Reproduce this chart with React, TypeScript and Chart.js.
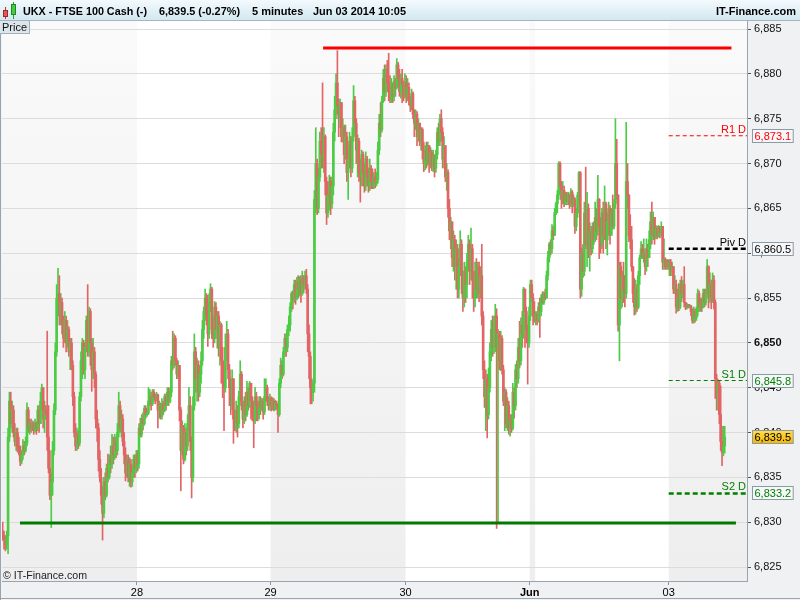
import { useEffect, useRef } from "react";
import { Chart, registerables } from "chart.js";

Chart.register(...registerables);

// ---------------- DATA ----------------
// 5-minute candles, each entry is [high, low, close]; the open is the previous close.
const firstOpen = 6829;

const may27 = [
  [6830, 6828, 6828.5], [6829, 6827, 6828], [6828.5, 6826.8, 6827.5], [6829, 6827, 6828.5], [6840.5, 6826.5, 6839.5],
  [6844.5, 6839, 6843.5], [6844.5, 6840.5, 6841], [6843.5, 6840, 6842.5], [6843, 6839.5, 6840], [6841, 6838.5, 6839],
  [6840.5, 6838, 6840], [6840.5, 6837.8, 6838.5], [6839.5, 6837.5, 6838], [6838.5, 6836.3, 6836.8], [6838, 6836.5, 6837.5],
  [6839.2, 6837, 6838.5], [6839, 6837.5, 6838], [6839.5, 6837.8, 6838.8], [6843.3, 6838.5, 6842.5], [6842.8, 6840, 6840.5],
  [6841.5, 6839.8, 6841], [6841.5, 6840, 6840.5], [6841.3, 6840.2, 6841], [6841.2, 6839.8, 6840.3], [6841.5, 6840, 6841],
  [6841.2, 6839.8, 6840.5], [6843, 6840.2, 6842.5], [6843, 6840, 6841], [6844.5, 6841, 6843.5], [6845.4, 6842.5, 6845],
  [6845, 6840.5, 6841.5], [6843.5, 6840, 6842.5], [6843, 6841.5, 6842], [6851.3, 6838, 6839.5], [6843, 6835.5, 6836],
  [6838, 6832.5, 6833], [6835.5, 6829.4, 6834.5], [6839, 6833, 6838], [6843.2, 6837.5, 6842.5], [6850, 6842, 6849],
  [6856.5, 6848.5, 6855], [6858.3, 6854, 6855.5], [6857.5, 6852, 6853], [6855.5, 6852, 6854.5], [6855, 6851, 6852],
  [6853, 6849.5, 6850.5], [6853.5, 6850, 6852.5], [6853, 6849, 6850], [6852.5, 6849.5, 6851.5], [6851.8, 6848.5, 6849],
  [6850.5, 6847, 6850], [6850.5, 6847, 6847.5], [6848, 6843, 6844], [6844.5, 6839.5, 6840], [6841, 6838, 6838.5],
  [6840.5, 6838, 6839.8], [6840.2, 6838.2, 6838.8], [6844.5, 6838.5, 6844], [6849, 6843.5, 6848], [6850.5, 6846, 6850],
  [6850.3, 6846.5, 6847], [6850, 6846, 6849.5], [6853, 6849, 6852.5], [6856.5, 6848.5, 6849], [6854, 6848.5, 6853.5],
  [6853.8, 6847.5, 6850], [6850.5, 6844.6, 6847], [6850.5, 6846, 6849], [6849.5, 6845, 6846.5], [6846.8, 6840.5, 6841.5],
  [6842.5, 6839, 6840.5], [6841, 6835.7, 6837], [6838, 6834.5, 6835], [6836, 6832, 6833], [6834, 6828, 6831],
  [6835, 6830.5, 6834.5], [6835.5, 6832.5, 6833], [6836.5, 6832.8, 6836], [6837.6, 6834.5, 6835], [6837.5, 6834.8, 6837],
  [6838.5, 6835.5, 6836.5], [6839.8, 6836, 6838.5], [6839.5, 6836.5, 6837.5], [6839.8, 6837, 6839], [6839.5, 6837.2, 6838],
  [6841, 6837.5, 6840], [6844.5, 6839.5, 6843], [6843.5, 6840, 6840.5], [6842.5, 6839.5, 6841.5], [6842, 6838.5, 6839],
  [6840, 6836.5, 6837.5], [6838.3, 6834.6, 6835.5], [6837.5, 6835, 6837], [6837.5, 6834.5, 6835], [6837.2, 6834, 6836.5],
  [6837, 6833.9, 6834.5], [6836.3, 6834, 6835.5], [6837.5, 6835, 6837], [6837.5, 6835, 6836], [6838, 6835.5, 6837.5],
];

const may28 = [
  [6838, 6835.7, 6836.5], [6841, 6836, 6840.5], [6841.6, 6839.5, 6839.8], [6842, 6839.5, 6841.5], [6842.2, 6840.3, 6841],
  [6843, 6840.8, 6842.7], [6843, 6841.6, 6842], [6842.5, 6841.8, 6842.2], [6845, 6842, 6843.5], [6844.8, 6843, 6844],
  [6844.5, 6842.5, 6843.2], [6844.8, 6843, 6844.5], [6844.8, 6843.5, 6844], [6844.3, 6843.2, 6843.7], [6844.5, 6843.5, 6844.2],
  [6844.3, 6840.5, 6842.5], [6843.5, 6841.6, 6843], [6843.3, 6841.5, 6841.8], [6843.8, 6841.5, 6843.2], [6843.5, 6842, 6842.5],
  [6844.3, 6842.3, 6844], [6844.3, 6842.5, 6843], [6845, 6843, 6844.5], [6845, 6843, 6843.5], [6845, 6843.3, 6844.5],
  [6848.5, 6844, 6848], [6851.3, 6847, 6847.5], [6851, 6847.2, 6850.5], [6850.8, 6847.5, 6848], [6848.3, 6846, 6846.5],
  [6848, 6846, 6847.5], [6847.5, 6841.3, 6842.5], [6842.8, 6833.5, 6838], [6841.3, 6837.5, 6840.5], [6840.8, 6836.5, 6837],
  [6841, 6836.8, 6840], [6840.5, 6837.5, 6838.5], [6842, 6838, 6841], [6845, 6840, 6843], [6844, 6838, 6839],
  [6839.5, 6832.7, 6835], [6844, 6834.5, 6843], [6851, 6842.5, 6849], [6849.5, 6844.5, 6846], [6848.3, 6843.5, 6847.5],
  [6848, 6843.5, 6844.5], [6847.5, 6844, 6846.5], [6849, 6845.5, 6848], [6852.5, 6847.5, 6851.5], [6854, 6850.5, 6853.5],
  [6856, 6852.5, 6855], [6855.5, 6852, 6853], [6855.3, 6849.6, 6851], [6855.5, 6850.5, 6854.5], [6856.6, 6853.5, 6856],
  [6856.2, 6850.5, 6851.5], [6853, 6849.5, 6850.5], [6854.6, 6850, 6854], [6854.5, 6850.5, 6851.5], [6853.5, 6849.4, 6853],
  [6853.5, 6848.5, 6849.5], [6852.4, 6847.5, 6852], [6852.2, 6845.5, 6848], [6849.5, 6843.9, 6846], [6847.5, 6840.2, 6845],
  [6851, 6844.5, 6849.5], [6852.4, 6848, 6851], [6851.5, 6846, 6847], [6847.6, 6843, 6845], [6846, 6842, 6843],
  [6847, 6842.5, 6846], [6846, 6838.8, 6841.5], [6842.5, 6840.2, 6840.5], [6843.5, 6840, 6842.5], [6843, 6839.5, 6841],
  [6844.6, 6840.5, 6844], [6848, 6843.5, 6846.5], [6846.8, 6842.5, 6843], [6843.5, 6840.5, 6841.5], [6844, 6841, 6843.5],
  [6844.5, 6841.3, 6842], [6845.7, 6841.8, 6844.5], [6845, 6842.5, 6843], [6845.7, 6842.8, 6845.5], [6845.5, 6841.5, 6843.5],
  [6844, 6841.3, 6842], [6843.5, 6838.3, 6841.5], [6845, 6841, 6844], [6844.5, 6841.3, 6843], [6843.5, 6841.3, 6842],
  [6844, 6841.5, 6843.5], [6844, 6842, 6842.8], [6843.8, 6842.5, 6843.5], [6843.8, 6841.5, 6842.3], [6846, 6842, 6844],
  [6846, 6843.5, 6845], [6845.3, 6843, 6843.5], [6844, 6842.5, 6843], [6844.3, 6842.5, 6843.8],
];

const may29 = [
  [6844, 6842.4, 6843], [6843.9, 6842.5, 6843.5], [6843.8, 6842.4, 6842.6], [6843.6, 6842.5, 6843.2], [6843.5, 6842.6, 6843],
  [6843.2, 6840, 6842], [6846, 6841.8, 6845.5], [6848.3, 6845, 6847.5], [6848, 6846, 6846.5], [6849.5, 6846.3, 6849],
  [6851, 6848.5, 6850.5], [6851, 6848.5, 6849.5], [6852, 6849, 6851.5], [6853, 6850.8, 6852], [6854.5, 6851.3, 6854],
  [6855.7, 6853.5, 6855.5], [6855.8, 6853.8, 6854.8], [6857, 6854.5, 6856.5], [6857, 6854.3, 6855], [6857.3, 6854.8, 6856.8],
  [6857.5, 6855, 6856], [6857.4, 6855.2, 6857], [6857.5, 6854.5, 6855.5], [6858, 6855.3, 6857.2], [6857.5, 6855.6, 6856.5],
  [6858, 6856, 6857.5], [6858.2, 6855.5, 6856], [6856.5, 6849, 6851], [6852, 6846, 6848.5], [6849, 6843.2, 6845],
  [6846, 6843.2, 6844.5], [6845.8, 6843.5, 6845.5], [6867, 6844.5, 6866], [6874, 6864.5, 6870], [6870.5, 6864.3, 6865],
  [6869.5, 6864.5, 6868.5], [6873.5, 6868, 6872.5], [6874, 6869.5, 6871], [6879, 6869.5, 6870.5], [6874, 6869, 6873],
  [6873.2, 6866.5, 6868], [6868.5, 6863.2, 6864.5], [6867.5, 6864, 6866.5], [6868.7, 6864.8, 6868], [6868.5, 6864.3, 6865.5],
  [6868.5, 6865, 6867.5], [6874.5, 6866.5, 6873.5], [6877.5, 6872.5, 6876], [6880, 6875, 6879], [6882.6, 6875.5, 6876.5],
  [6877.2, 6873, 6875], [6877.2, 6874, 6876.8], [6876.5, 6872.4, 6873], [6875, 6872.4, 6874], [6874.3, 6870, 6871],
  [6874.3, 6870.5, 6873], [6873.5, 6868, 6869], [6872, 6866, 6870.5], [6873.5, 6869.5, 6872.5], [6873, 6868.5, 6869.5],
  [6874, 6869, 6873], [6878.7, 6872.5, 6877], [6877.5, 6873.5, 6874.5], [6875, 6870, 6871.5], [6873.2, 6868.5, 6872.5],
  [6872.8, 6868, 6869], [6870.5, 6865.7, 6868.5], [6871.5, 6867.5, 6871], [6871.3, 6867.5, 6869], [6870, 6866.8, 6867.5],
  [6871.3, 6867, 6870.5], [6870.8, 6867.5, 6868.5], [6869.5, 6866.8, 6867.5], [6870.5, 6867, 6869.5], [6869.8, 6867.2, 6868],
  [6869.4, 6867.2, 6867.5], [6869, 6867.2, 6868.5], [6869.4, 6867.3, 6867.8], [6869, 6867.5, 6868.2], [6872.4, 6867.8, 6871.5],
  [6875.5, 6871, 6874.5], [6876.8, 6873, 6873.8], [6877.5, 6873.5, 6877], [6880.5, 6876.8, 6879.5], [6881, 6877, 6878],
  [6881, 6877.5, 6880.5], [6881.5, 6878, 6879], [6882.3, 6877, 6878], [6879.8, 6876.8, 6877.2], [6879.5, 6876.8, 6878.5],
  [6879, 6876.8, 6877.5], [6879.8, 6877, 6879.2], [6879.5, 6877.5, 6878.5], [6881.7, 6878.3, 6881], [6881.3, 6878.5, 6879.5],
  [6880.5, 6877.5, 6878], [6880, 6877.3, 6879.5], [6880.5, 6876.8, 6878.8], [6879.2, 6877, 6877.5], [6880, 6877.3, 6879],
];

const may30 = [
  [6879.8, 6876.8, 6877.5], [6879.5, 6877, 6878.5], [6879, 6876.5, 6877], [6877.5, 6875.8, 6876.5], [6878.3, 6876, 6877.8],
  [6878, 6875, 6875.5], [6876, 6873, 6874.5], [6876, 6873.8, 6875.5], [6875.8, 6872, 6873], [6875, 6872.5, 6874.5],
  [6874.5, 6872, 6872.5], [6874, 6871.5, 6873.8], [6874, 6870.5, 6871.5], [6872.4, 6869.1, 6870], [6872, 6869.3, 6871.5],
  [6872.4, 6869.5, 6870.5], [6872.4, 6869.8, 6872], [6872, 6869, 6870], [6871.8, 6869.5, 6871.2], [6871.5, 6869.2, 6869.8],
  [6871.5, 6869.1, 6870.8], [6871, 6868.5, 6869.5], [6871.5, 6869, 6871], [6874, 6870.5, 6873.5], [6874.5, 6872, 6872.5],
  [6875.5, 6872, 6875], [6876, 6872.5, 6873.5], [6874, 6869.5, 6870.5], [6873, 6869.5, 6872], [6872, 6868, 6868.5],
  [6870, 6867, 6869], [6869.3, 6864, 6865], [6866, 6861.5, 6862.5], [6864, 6860.5, 6863.5], [6863.5, 6858.5, 6859.5],
  [6862.5, 6858, 6861.5], [6862, 6857, 6858.5], [6861.5, 6856, 6860.5], [6861, 6855, 6856], [6859.5, 6855, 6858.5],
  [6862.5, 6857.5, 6861], [6861.5, 6855.5, 6857.5], [6858, 6853.5, 6855], [6859, 6854, 6858], [6858.5, 6854.5, 6856.5],
  [6860, 6855, 6859], [6862, 6858, 6861], [6861.5, 6856.5, 6858], [6862.8, 6857, 6860.5], [6861, 6855, 6857],
  [6858, 6853.5, 6855], [6859, 6854, 6858], [6859.4, 6855, 6856], [6859, 6855, 6858.5], [6859, 6854.6, 6855.5],
  [6858.5, 6855, 6857.5], [6861, 6852, 6853], [6853.5, 6846, 6847], [6848, 6842.8, 6844], [6847, 6840.2, 6846],
  [6846.5, 6839.4, 6842], [6847.2, 6841.5, 6845], [6850, 6844.5, 6849], [6852.5, 6848, 6851.5], [6853, 6848.5, 6849.5],
  [6853, 6848.8, 6852], [6854.3, 6849, 6853], [6853.8, 6829.3, 6849.5], [6851.5, 6830, 6851], [6851.3, 6847, 6848],
  [6851.3, 6846.9, 6850.5], [6850.8, 6846.5, 6847], [6847.5, 6843, 6843.5], [6845, 6840.2, 6844.5], [6844.8, 6840.5, 6841],
  [6843.9, 6840.2, 6843], [6843.5, 6839.8, 6840.5], [6842, 6839.6, 6841.5], [6842, 6840, 6840.5], [6845.5, 6840.3, 6844.5],
  [6845, 6841.6, 6843], [6847.6, 6842.5, 6847], [6848, 6845, 6846], [6850.5, 6845.5, 6849.5], [6852.4, 6847.2, 6848],
  [6852.8, 6847.5, 6852], [6853.5, 6849.5, 6851], [6856.2, 6850.5, 6856], [6855.4, 6849.5, 6853.5], [6854, 6850, 6851.5],
  [6852, 6845.4, 6850], [6854, 6849.5, 6853],
];

const jun01 = [
  [6857, 6852.5, 6856.5], [6857, 6854.6, 6855], [6855.5, 6852, 6853], [6854.6, 6852.3, 6852.8],
];

const jun02 = [
  [6853.5, 6852, 6853.2], [6853.5, 6852, 6852.5], [6854.5, 6852.3, 6854], [6855, 6850.6, 6853.5], [6855.4, 6853, 6855],
  [6855.7, 6854.3, 6854.5], [6855.7, 6854.3, 6855.5], [6856, 6854.8, 6855], [6858, 6855, 6857.5], [6860.2, 6857, 6859.5],
  [6861.2, 6859, 6861], [6861.5, 6859.8, 6860.5], [6863.2, 6860, 6862.5], [6863, 6861.5, 6862], [6865, 6862, 6864.5],
  [6865.7, 6864.3, 6865.5], [6867, 6864.5, 6866.5], [6870.2, 6866, 6870], [6870.2, 6867, 6867.5], [6868, 6865, 6866],
  [6868, 6865.5, 6867], [6867.5, 6865.2, 6865.5], [6866.8, 6865.4, 6866.5], [6866.8, 6865.4, 6865.8], [6866.8, 6865.4, 6866.5],
  [6866.6, 6865, 6865.5], [6867.2, 6865.2, 6866.8], [6867, 6864.5, 6865.5], [6866.5, 6865.2, 6866], [6866.2, 6862.2, 6863],
  [6865, 6862.5, 6864.5], [6866.8, 6864, 6866.5], [6869.1, 6866, 6869], [6869.1, 6855, 6856], [6860.6, 6855.2, 6860],
  [6861, 6857.3, 6858], [6865.7, 6857.5, 6864.5], [6869.6, 6860.5, 6861], [6866.8, 6858.5, 6865], [6865.5, 6859.5, 6860.5],
  [6863.4, 6858, 6862.5], [6863, 6859.8, 6860.5], [6863.4, 6860, 6863], [6863.5, 6861, 6861.5], [6865.7, 6861.3, 6864],
  [6865, 6861.5, 6862.5], [6868.7, 6862, 6866], [6866.1, 6859.4, 6863], [6864, 6860, 6861], [6865, 6860.5, 6864.5],
  [6865.7, 6860, 6862], [6867.5, 6861.5, 6865.5], [6865.7, 6860.5, 6861.5], [6864.5, 6859.8, 6863.5], [6865.7, 6862, 6865],
  [6865.3, 6861, 6862], [6865, 6862, 6864.5], [6866.5, 6862.7, 6863], [6866, 6862.7, 6865.5], [6875, 6865, 6870],
  [6872.7, 6866, 6866.5], [6866.5, 6851.3, 6852], [6859, 6848, 6858.5], [6859, 6853.8, 6855], [6858, 6854, 6857.5],
  [6859, 6854.5, 6856], [6857.5, 6854, 6855.5], [6874.6, 6855, 6868], [6870, 6865, 6866.5], [6866.5, 6861.3, 6862],
  [6864.3, 6860.5, 6861.5], [6863, 6858, 6858.5], [6858.5, 6854.5, 6855.5], [6857.2, 6853.1, 6854], [6857, 6853.2, 6856],
  [6856.5, 6853.5, 6854], [6858, 6853.8, 6857.5], [6859.8, 6856.5, 6859.5], [6861.3, 6859.4, 6860.5], [6861, 6859.4, 6859.6],
  [6861.6, 6859, 6860], [6860.5, 6857.6, 6858.5], [6861.6, 6858, 6860.5], [6861, 6858.5, 6859.5], [6862.5, 6859.5, 6861.5],
  [6864.6, 6860.5, 6863.5], [6865.7, 6861, 6862], [6864.6, 6861.5, 6864], [6864, 6861, 6861.8], [6863.1, 6861.6, 6862.8],
  [6863, 6861.6, 6862], [6863.1, 6861.8, 6862.9], [6863, 6861.7, 6862.3], [6863.5, 6861.9, 6863], [6863, 6858.2, 6859],
  [6861.6, 6858.2, 6859.3], [6859.5, 6858.2, 6858.5], [6859.3, 6858.2, 6859.2], [6859.3, 6858.2, 6858.5],
];

const jun03 = [
  [6859.3, 6857.5, 6859], [6859.3, 6857.5, 6858], [6859, 6857.5, 6858.5], [6858.2, 6855.5, 6856], [6857.5, 6855.5, 6856.5],
  [6857, 6853.3, 6854], [6856, 6853.5, 6855], [6856.6, 6853.6, 6854], [6857, 6853.8, 6856.5], [6857.4, 6854.6, 6855.5],
  [6857, 6855, 6856.5], [6858.5, 6854, 6854.5], [6854.4, 6853.7, 6854], [6854.4, 6853.8, 6854.2], [6854.3, 6853.9, 6854],
  [6854.3, 6853.9, 6854.1], [6854.2, 6853, 6853.5], [6853.8, 6852.2, 6852.5], [6854, 6852.2, 6853.5], [6853.8, 6852.3, 6852.8],
  [6854, 6852.5, 6853.5], [6856, 6853, 6855.5], [6855.8, 6853.5, 6854], [6855, 6853.5, 6854.5], [6855, 6853.5, 6854],
  [6856, 6853.9, 6855.5], [6856, 6854, 6854.5], [6856, 6854.2, 6855.5], [6859.3, 6855.5, 6858.5], [6858.6, 6853.9, 6855],
  [6857.8, 6854.5, 6856.5], [6857, 6853.8, 6855], [6857.8, 6854.5, 6857], [6857.5, 6853.8, 6854.5], [6854.8, 6843.8, 6846],
  [6846.5, 6842.5, 6844.5], [6845.9, 6842.5, 6845.5], [6845.8, 6841, 6842], [6845.2, 6838, 6839], [6840.7, 6836.3, 6837.8],
  [6840.7, 6837.4, 6838.5], [6840.7, 6837.7, 6839.5],
];

const days = [may27, may28, may29, may30, jun01, jun02, jun03];
const dayTickLabels = ["", "28", "29", "30", "Jun", "", "03"];
const boldDayLabels = ["Jun"];

// Header texts
const titleText = "UKX - FTSE 100 Cash (-)";
const quoteText = "6,839.5 (-0.27%)";
const periodText = "5 minutes";
const dateText = "Jun 03 2014 10:05";
const brandText = "IT-Finance.com";
const panelText = "Price";
const copyrightText = "\u00A9 IT-Finance.com";

// Daily pivot levels
const levelNames = ["R1 D", "Piv D", "S1 D", "S2 D"];
const levelValues = [6873.1, 6860.5, 6845.8, 6833.2];

// Hand-drawn trend lines: [startSlot, endSlot] and price
const resistanceSlots = [237.4, 540];
const resistancePrice = 6882.9;
const supportSlots = [12.8, 543.3];
const supportPrice = 6829.9;

// Axes
const yMin = 6823.44;
const yMax = 6885.9;
const yStep = 5;
const yBoldTick = 6850;
const xMax = 551.5;

// ---------------- STYLE ----------------
const FONT = '"Liberation Sans", Arial, sans-serif';
const UP = "#4ccb45";
const DOWN = "#e26464";
const levelStyles = [
  { color: "#ff0000", width: 1, dash: [4, 3] },
  { color: "#000000", width: 2.5, dash: [5, 3] },
  { color: "#008000", width: 1, dash: [4, 3] },
  { color: "#008000", width: 2.5, dash: [5, 3] },
];

const fmt = (v: number, d = 0) =>
  v.toLocaleString("en-US", { minimumFractionDigits: d, maximumFractionDigits: d });

export default function App() {
  const ref = useRef<HTMLCanvasElement>(null);

  useEffect(() => {
    // build candles
    const candles: { o: number; h: number; l: number; c: number }[] = [];
    let prev = firstOpen;
    const dayStarts: number[] = [];
    for (const day of days) {
      dayStarts.push(candles.length);
      for (const [h, l, c] of day) {
        const o = prev;
        candles.push({ o, h: Math.max(h, o, c), l: Math.min(l, o, c), c });
        prev = c;
      }
    }
    const lastPrice = candles[candles.length - 1].c;
    const colors = candles.map((k) => (k.c >= k.o ? UP : DOWN));
    const wickData = candles.map((k, i) => ({ x: i, y: [k.l, k.h] }));
    const bodyData = candles.map((k, i) => ({ x: i, y: [k.o, k.c] }));

    const tickSlots: number[] = [];
    const tickText: Record<string, string> = {};
    dayStarts.forEach((s, d) => {
      if (dayTickLabels[d]) {
        tickSlots.push(s - 0.5);
        tickText[String(s - 0.5)] = dayTickLabels[d];
      }
    });
    const pivotStart = dayStarts[dayStarts.length - 1] - 0.5;

    const levelDatasets = levelValues.map((v, i) => ({
      type: "line" as const,
      data: [
        { x: pivotStart, y: v },
        { x: xMax, y: v },
      ],
      borderColor: levelStyles[i].color,
      borderWidth: levelStyles[i].width,
      borderDash: levelStyles[i].dash,
      borderCapStyle: "butt" as const,
      pointRadius: 0,
      fill: false,
      order: 0,
    }));

    const framePlugin = {
      id: "frame",
      beforeDraw(chart: any) {
        const { ctx, chartArea: ca, scales } = chart;
        const xs = scales.x;
        ctx.save();
        ctx.fillStyle = "#f0f1f3";
        ctx.fillRect(0, 0, 800, 600);
        ctx.fillStyle = "#ffffff";
        ctx.fillRect(ca.left, ca.top, ca.right - ca.left, ca.bottom - ca.top);
        const g = ctx.createLinearGradient(0, ca.top, 0, ca.bottom);
        g.addColorStop(0, "#fafafa");
        g.addColorStop(1, "#eeeeee");
        dayStarts.forEach((s, d) => {
          if (d % 2) return;
          const end = d === days.length - 1 ? xMax : s + days[d].length - 0.5;
          const x0 = d === 0 ? ca.left : xs.getPixelForValue(s - 0.5);
          const x1 = Math.min(ca.right, xs.getPixelForValue(end));
          ctx.fillStyle = g;
          ctx.fillRect(x0, ca.top, x1 - x0, ca.bottom - ca.top);
        });
        // header
        const hg = ctx.createLinearGradient(0, 0, 0, 20);
        hg.addColorStop(0, "#f3fafd");
        hg.addColorStop(1, "#d3e8f1");
        ctx.fillStyle = hg;
        ctx.fillRect(0, 0, 800, 20);
        ctx.fillStyle = "#a7b4bf";
        ctx.fillRect(0, 20, 800, 1);
        ctx.restore();
      },
      afterDraw(chart: any) {
        const { ctx, chartArea: ca, scales } = chart;
        const ys = scales.y;
        ctx.save();
        // frame lines
        ctx.fillStyle = "#98a4b0";
        ctx.fillRect(0, 21, 1, 579);
        ctx.fillRect(0, 598, 800, 1);

        // level labels and value boxes
        ctx.font = `11px ${FONT}`;
        levelValues.forEach((v, i) => {
          const y = ys.getPixelForValue(v);
          ctx.fillStyle = levelStyles[i].color;
          ctx.textAlign = "right";
          ctx.textBaseline = "alphabetic";
          ctx.fillText(levelNames[i], ca.right - 1, y - 3);
          const t = fmt(v, 1);
          const w = ctx.measureText(t).width + 4;
          const by = Math.round(y) - 6.5;
          ctx.fillStyle = "#f6f7f9";
          ctx.fillRect(752.5, by, w, 13);
          ctx.strokeStyle = "#8d9aa6";
          ctx.lineWidth = 1;
          ctx.strokeRect(752.5, by, w, 13);
          ctx.fillStyle = levelStyles[i].color;
          ctx.textAlign = "left";
          ctx.textBaseline = "middle";
          ctx.fillText(t, 754.5, by + 7);
        });
        // last price box
        {
          const y = ys.getPixelForValue(lastPrice);
          const t = fmt(lastPrice, 1);
          const w = ctx.measureText(t).width + 4;
          const by = Math.round(y) - 6.5;
          const yg = ctx.createLinearGradient(0, by, 0, by + 13);
          yg.addColorStop(0, "#ffdc50");
          yg.addColorStop(1, "#f3b700");
          ctx.fillStyle = yg;
          ctx.fillRect(752.5, by, w, 13);
          ctx.strokeStyle = "#8d9aa6";
          ctx.strokeRect(752.5, by, w, 13);
          ctx.fillStyle = "#000";
          ctx.textAlign = "left";
          ctx.textBaseline = "middle";
          ctx.fillText(t, 754.5, by + 7);
        }

        // "Price" panel tag
        ctx.fillStyle = "#dce5ec";
        ctx.fillRect(0, 21, 30, 13);
        ctx.fillStyle = "#a3b0bb";
        ctx.fillRect(29, 21, 1, 13);
        ctx.fillRect(0, 33, 30, 1);
        ctx.fillStyle = "#111";
        ctx.font = `11px ${FONT}`;
        ctx.textAlign = "left";
        ctx.textBaseline = "alphabetic";
        ctx.fillText(panelText, 2, 31, 25);

        // watermark
        ctx.fillStyle = "#222";
        ctx.fillText(copyrightText, 3, 579, 84);

        // header icon
        ctx.fillStyle = "#c03030";
        ctx.fillRect(5, 7, 1, 12);
        ctx.fillStyle = "#e05a5a";
        ctx.fillRect(3, 10, 5, 7);
        ctx.strokeStyle = "#a02828";
        ctx.strokeRect(3.5, 10.5, 4, 6);
        ctx.fillStyle = "#2a9a2a";
        ctx.fillRect(13, 2, 1, 17);
        ctx.fillStyle = "#44cc44";
        ctx.fillRect(11, 4, 5, 11);
        ctx.strokeStyle = "#228822";
        ctx.strokeRect(11.5, 4.5, 4, 10);

        // header texts
        ctx.fillStyle = "#000";
        ctx.font = `bold 11px ${FONT}`;
        ctx.textBaseline = "alphabetic";
        ctx.textAlign = "left";
        ctx.fillText(titleText, 23, 15, 124);
        ctx.fillText(quoteText, 159, 15, 81);
        ctx.fillText(periodText, 252, 15, 55);
        ctx.fillText(dateText, 313, 15, 93);
        ctx.textAlign = "right";
        ctx.fillText(brandText, 796, 15, 84);
        ctx.restore();
      },
    };

    const chart = new Chart(ref.current as HTMLCanvasElement, {
      type: "bar",
      data: {
        datasets: [
          {
            type: "bar",
            data: wickData as any,
            backgroundColor: colors,
            borderWidth: 0,
            barThickness: 1,
            grouped: false,
            order: 2,
          } as any,
          {
            type: "bar",
            data: bodyData as any,
            backgroundColor: colors,
            borderWidth: 0,
            barThickness: 2,
            minBarLength: 1,
            grouped: false,
            order: 1,
          } as any,
          {
            type: "line",
            data: [
              { x: resistanceSlots[0], y: resistancePrice },
              { x: resistanceSlots[1], y: resistancePrice },
            ],
            borderColor: "#ff0000",
            borderWidth: 3,
            borderCapStyle: "butt",
            pointRadius: 0,
            order: 0,
          } as any,
          {
            type: "line",
            data: [
              { x: supportSlots[0], y: supportPrice },
              { x: supportSlots[1], y: supportPrice },
            ],
            borderColor: "#007a00",
            borderWidth: 3,
            borderCapStyle: "butt",
            pointRadius: 0,
            order: 0,
          } as any,
          ...(levelDatasets as any[]),
        ],
      },
      options: {
        animation: false,
        responsive: false,
        devicePixelRatio: 1,
        events: [],
        layout: { padding: { left: 2, top: 21, right: 0, bottom: 0 } },
        plugins: { legend: { display: false }, tooltip: { enabled: false } },
        scales: {
          x: {
            type: "linear",
            min: -0.5,
            max: xMax,
            offset: false,
            grid: {
              display: true,
              offset: false,
              drawOnChartArea: false,
              drawTicks: true,
              tickLength: 4,
              tickColor: "#8a96a2",
            },
            border: { display: true, color: "#98a4b0" },
            afterBuildTicks: (s: any) => {
              s.ticks = tickSlots.map((v) => ({ value: v }));
            },
            afterFit: (s: any) => {
              s.height = 19;
            },
            ticks: {
              autoSkip: false,
              maxRotation: 0,
              minRotation: 0,
              padding: 1,
              color: "#000",
              font: (c: any) => ({
                family: FONT,
                size: 11,
                weight: c.tick && boldDayLabels.includes(tickText[String(c.tick.value)]) ? "bold" : "normal",
              }),
              callback: (v: any) => tickText[String(v)] ?? "",
            },
          },
          y: {
            type: "linear",
            position: "right",
            min: yMin,
            max: yMax,
            grid: {
              color: "#dcdcdc",
              drawTicks: true,
              tickLength: 4,
              tickColor: "#555",
            },
            border: { display: true, color: "#98a4b0" },
            afterFit: (s: any) => {
              s.width = 53;
            },
            ticks: {
              stepSize: yStep,
              includeBounds: false,
              padding: 3,
              color: "#111",
              font: (c: any) => ({
                family: FONT,
                size: 11,
                weight: c.tick && c.tick.value === yBoldTick ? "bold" : "normal",
              }),
              callback: (v: any) => fmt(Number(v)),
            },
          },
        },
      } as any,
      plugins: [framePlugin],
    });
    return () => chart.destroy();
  }, []);

  return (
    <div style={{ position: "fixed", left: 0, top: 0, width: 800, height: 600 }}>
      <canvas ref={ref} width={800} height={600} style={{ display: "block", width: 800, height: 600 }} />
    </div>
  );
}
